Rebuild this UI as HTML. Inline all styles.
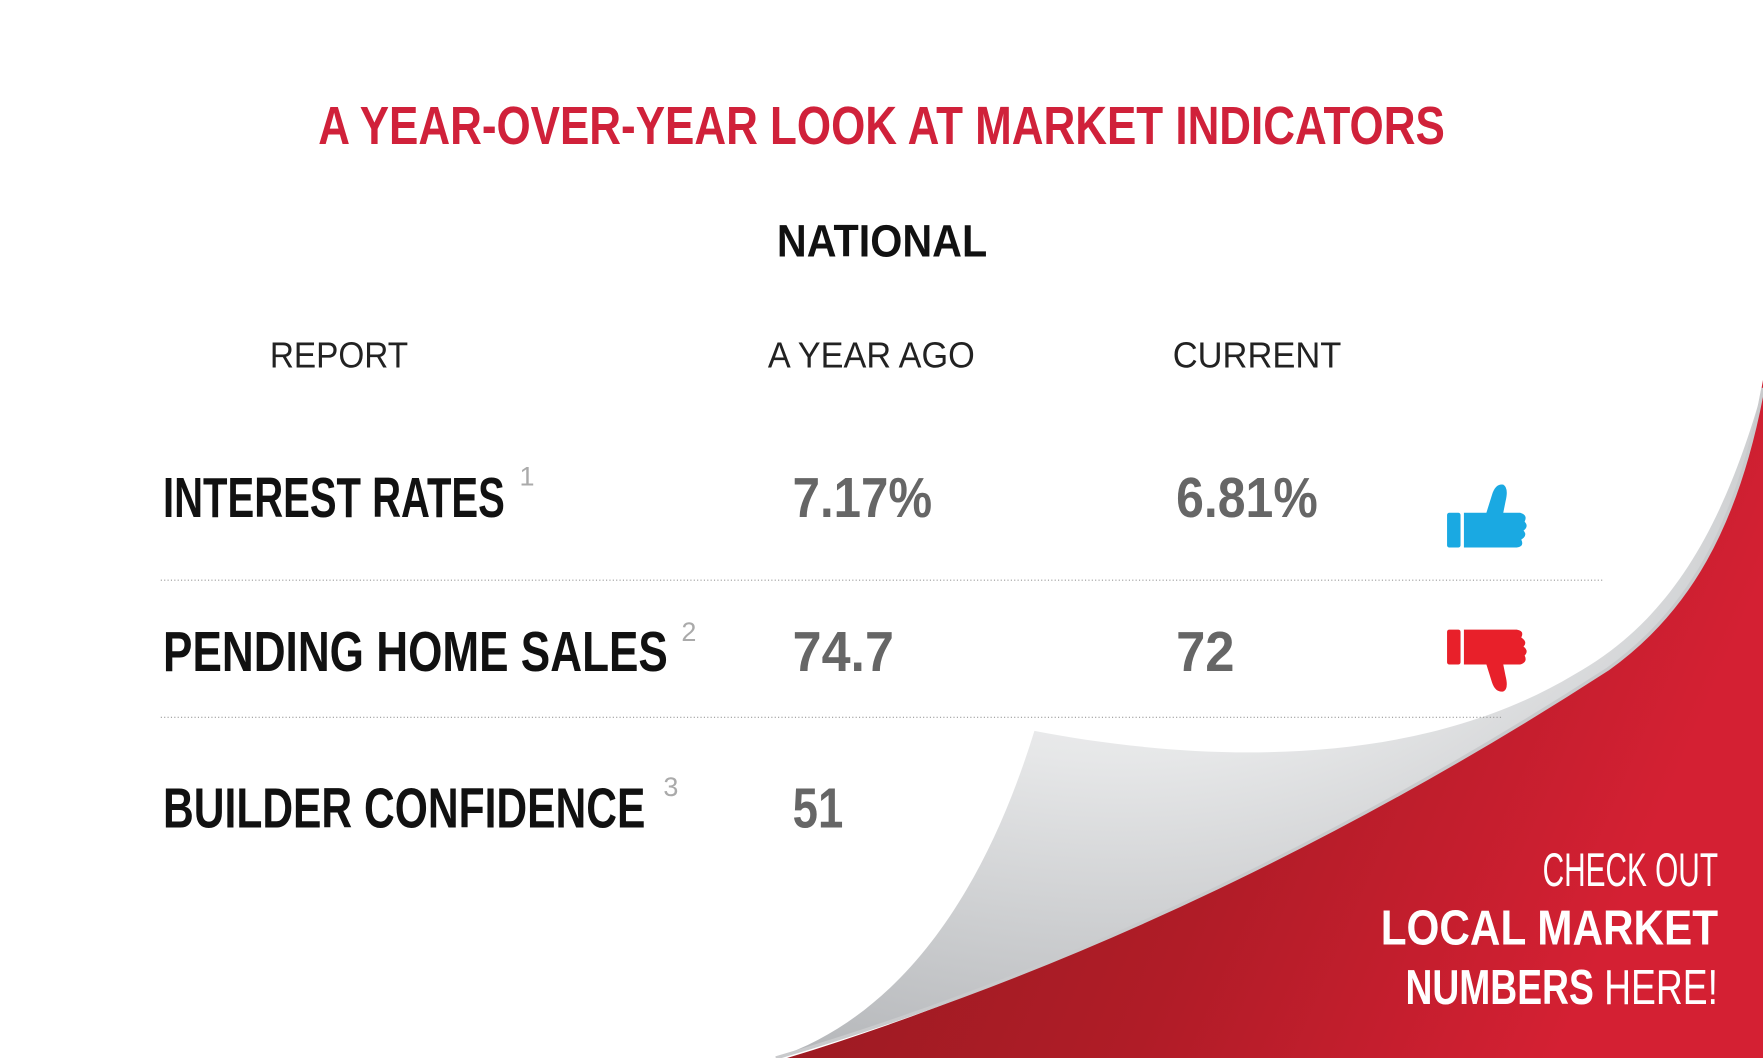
<!DOCTYPE html>
<html><head><meta charset="utf-8"><style>html,body{margin:0;padding:0;background:#fff}svg{display:block}</style></head>
<body>
<svg width="1763" height="1058" viewBox="0 0 1568 941" preserveAspectRatio="none" xmlns="http://www.w3.org/2000/svg" font-family="Liberation Sans, sans-serif">
<defs>
<linearGradient id="red" x1="0" y1="0" x2="1" y2="0.3">
<stop offset="0" stop-color="#8e1a1f"/><stop offset="0.6" stop-color="#b01c27"/><stop offset="1" stop-color="#d42033"/>
</linearGradient>
<radialGradient id="curl" cx="0.35" cy="0.15" r="0.9">
<stop offset="0" stop-color="#ffffff"/><stop offset="0.45" stop-color="#e6e7e8"/><stop offset="1" stop-color="#b5b7ba"/>
</radialGradient>
</defs>
<rect width="1568" height="941" fill="#fff"/>
<path d="M1568,338 C1545,470 1500,540 1420,590 C1250,700 1000,850 700,941 L1568,941 Z" fill="url(#red)"/>
<path d="M920,650 C1050,675 1250,690 1400,600 C1480,555 1530,480 1568,345 C1545,470 1500,545 1430,595 C1260,705 1000,850 690,941 C810,900 880,780 920,650 Z" fill="url(#curl)"/>
<path d="M1568,345 C1545,470 1500,545 1430,595 C1260,705 1000,850 690,941" fill="none" stroke="#c9cacc" stroke-width="3"/>
<text x="283" y="128" textLength="1002" lengthAdjust="spacingAndGlyphs" font-size="48" font-weight="bold" fill="#d0213a">A YEAR-OVER-YEAR LOOK AT MARKET INDICATORS</text>
<text x="691" y="228" textLength="187" lengthAdjust="spacingAndGlyphs" font-size="40" font-weight="bold" fill="#111">NATIONAL</text>
<g font-size="32" fill="#222">
<text x="240" y="327" textLength="123" lengthAdjust="spacingAndGlyphs">REPORT</text>
<text x="683" y="327" textLength="184" lengthAdjust="spacingAndGlyphs">A YEAR AGO</text>
<text x="1043" y="327" textLength="150" lengthAdjust="spacingAndGlyphs">CURRENT</text>
</g>
<g font-size="50" font-weight="bold" fill="#111">
<text x="145" y="460" textLength="304" lengthAdjust="spacingAndGlyphs">INTEREST RATES</text>
<text x="145" y="597" textLength="449" lengthAdjust="spacingAndGlyphs">PENDING HOME SALES</text>
<text x="145" y="736" textLength="429" lengthAdjust="spacingAndGlyphs">BUILDER CONFIDENCE</text>
</g>
<g font-size="24" fill="#aaa">
<text x="462" y="432">1</text><text x="606" y="570">2</text><text x="590" y="708">3</text>
</g>
<g font-size="50" font-weight="bold" fill="#666">
<text x="705" y="460" textLength="124" lengthAdjust="spacingAndGlyphs">7.17%</text>
<text x="1046" y="460" textLength="126" lengthAdjust="spacingAndGlyphs">6.81%</text>
<text x="705" y="597" textLength="90" lengthAdjust="spacingAndGlyphs">74.7</text>
<text x="1046" y="597" textLength="52" lengthAdjust="spacingAndGlyphs">72</text>
<text x="705" y="736" textLength="45" lengthAdjust="spacingAndGlyphs">51</text>
</g>
<g stroke="#999" stroke-width="1" stroke-dasharray="1,2">
<line x1="143" y1="516" x2="1425" y2="516"/><line x1="143" y1="638" x2="1335" y2="638"/>
</g>
<g fill="#1aa9e2">
<rect x="1287" y="456" width="12" height="31" rx="2"/>
<path d="M1302,456 L1322,456 L1327,440 Q1330,430 1337,431 Q1342,434 1339,446 L1337,456 L1352,456 Q1359,458 1356,464 Q1360,468 1355,472 Q1359,476 1353,480 Q1356,486 1349,487 L1302,487 Z"/>
</g>
<g fill="#e8202a">
<rect x="1287" y="560" width="12" height="31" rx="2"/>
<path d="M1302,560 L1349,560 Q1356,561 1353,567 Q1359,571 1355,575 Q1360,579 1356,583 Q1359,589 1352,591 L1337,591 L1339,601 Q1342,613 1337,615 Q1330,616 1327,607 L1322,591 L1302,591 Z"/>
</g>
<g fill="#fff" text-anchor="end">
<text x="1528" y="788" font-size="42" textLength="156" lengthAdjust="spacingAndGlyphs">CHECK OUT</text>
<text x="1528" y="840" font-size="44" font-weight="bold" textLength="300" lengthAdjust="spacingAndGlyphs">LOCAL MARKET</text>
<text x="1528" y="893" font-size="44" textLength="278" lengthAdjust="spacingAndGlyphs"><tspan font-weight="bold">NUMBERS</tspan> HERE!</text>
</g>
</svg>
</body></html>
